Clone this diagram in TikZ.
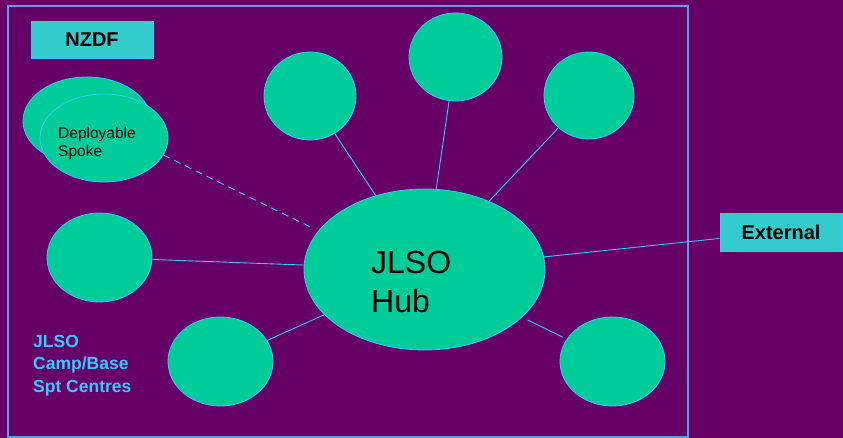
\documentclass[tikz,border=0pt]{standalone}
\usepackage{fontspec}
\setmainfont{Liberation Sans}
\usetikzlibrary{shapes.geometric}
\definecolor{bgpurple}{HTML}{660066}
\definecolor{spokegreen}{HTML}{00CC99}
\definecolor{edgeblue}{HTML}{33CCFF}
\definecolor{framecol}{HTML}{4FA3E8}
\definecolor{boxcyan}{HTML}{33CCCC}
\tikzset{
  spoke/.style={ellipse, fill=spokegreen, draw=edgeblue, line width=0.8pt, inner sep=0pt},
  tagbox/.style={rectangle, fill=boxcyan, draw=edgeblue, line width=0.6pt, inner sep=0pt,
                 font=\fontsize{20}{24}\selectfont\bfseries, text=black},
  link/.style={draw=edgeblue, line width=0.9pt},
  txt/.style={inner sep=0pt, anchor=base west, align=left}
}
\begin{document}
\begin{tikzpicture}[x=1pt,y=-1pt]
  \useasboundingbox (0,0) rectangle (843,438);
  \fill[bgpurple] (0,0) rectangle (843,438);

  % NZDF boundary
  \draw[framecol, line width=1.3pt] (8,6) rectangle (688,437);

  % labelled boxes
  \node[tagbox, minimum width=122pt, minimum height=37pt] (nzdf) at (92,39.5) {NZDF};
  \node[tagbox, minimum width=122pt, minimum height=38pt] (ext) at (781,232) {External};

  % deployable spoke (stacked pair)
  \node[spoke, minimum width=128pt, minimum height=88pt] (depback) at (87,121) {};
  \node[spoke, minimum width=128pt, minimum height=88pt] (dep) at (104,138) {};
  % base anchor of a multi-line node sits on its last line
  \node[txt, font=\fontsize{15.5}{18}\selectfont] (deptext) at (58,157) {Deployable\\Spoke};

  % hub
  \node[spoke, minimum width=241pt, minimum height=161pt] (hub) at (424.5,269.5) {};
  \node[txt, font=\fontsize{32}{39.5}\selectfont] (hubtext) at (371,312.5) {JLSO\\Hub};

  % camp/base support centres
  \node[spoke, minimum width=92pt, minimum height=88pt] (tl) at (310,96) {};
  \node[spoke, minimum width=93pt, minimum height=88pt] (tc) at (455.5,57) {};
  \node[spoke, minimum width=90pt, minimum height=87pt] (tr) at (589,95.5) {};
  \node[spoke, minimum width=105pt, minimum height=89pt] (lf) at (99.5,257.5) {};
  \node[spoke, minimum width=105pt, minimum height=89pt] (bl) at (220.5,361.5) {};
  \node[spoke, minimum width=105pt, minimum height=89pt] (br) at (612.5,361.5) {};

  \node[txt, text=edgeblue, font=\fontsize{17.5}{22.5}\selectfont\bfseries] (camptext) at (33,392)
    {JLSO\\Camp/Base\\Spt Centres};

  % connectors
  \draw[link] (tl) -- (hub);
  \draw[link] (tc) -- (hub);
  \draw[link] (tr) -- (hub);
  \draw[link] (lf) -- (hub);
  \draw[link] (bl) -- (hub);
  \draw[link, shorten <=4pt, shorten >=6pt] (br) -- (hub);
  \draw[link] (hub) -- (ext);
  \draw[link, dashed, dash pattern=on 7pt off 5pt, shorten >=6pt] (dep.-16) -- (hub.160);
\end{tikzpicture}
\end{document}
